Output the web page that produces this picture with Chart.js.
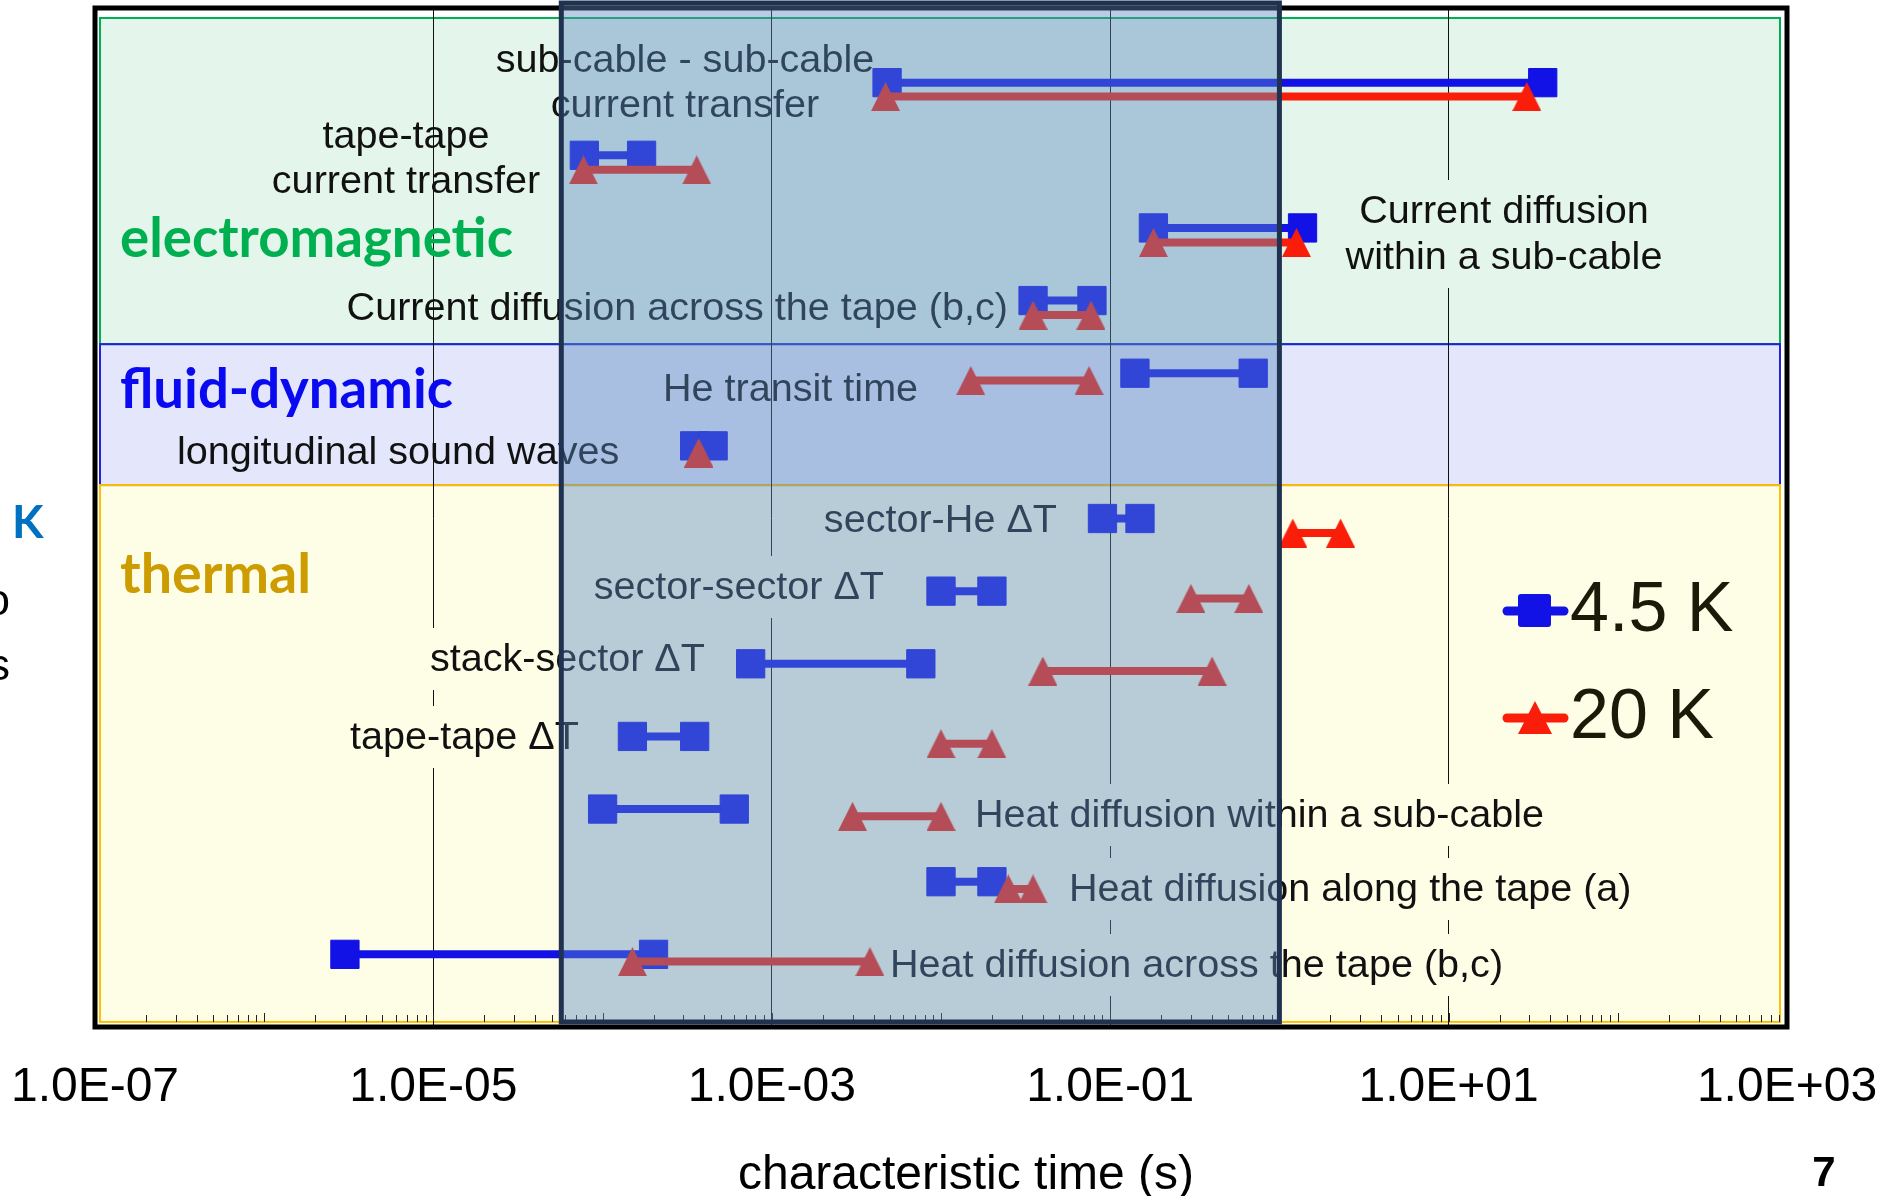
<!DOCTYPE html>
<html>
<head>
<meta charset="utf-8">
<script src="https://cdn.jsdelivr.net/npm/chart.js@4.4.1/dist/chart.umd.min.js"></script>
<style>
  html, body { margin: 0; padding: 0; background: #fff; }
  #wrap { width: 1879px; height: 1196px; }
</style>
</head>
<body>
<div id="wrap"><canvas id="myChart" width="1879" height="1196"></canvas></div>
<script>
// ---- data ----
const categories = [
  'sub-cable - sub-cable\ncurrent transfer',
  'tape-tape\ncurrent transfer',
  'Current diffusion\nwithin a sub-cable',
  'Current diffusion across the tape (b,c)',
  'He transit time',
  'longitudinal sound waves',
  'sector-He \u0394T',
  'sector-sector \u0394T',
  'stack-sector \u0394T',
  'tape-tape \u0394T',
  'Heat diffusion within a sub-cable',
  'Heat diffusion along the tape (a)',
  'Heat diffusion across the tape (b,c)'
];
const rowIndex = [1, 2, 3, 4, 5, 6, 7, 8, 9, 10, 11, 12, 13];
const blueStart = [4.8e-3, 7.8e-5, 0.18, 0.035, 0.14, 3.5e-4, 0.09, 0.010, 7.5e-4, 1.5e-4, 1.0e-4, 0.010, 3.0e-6];
const blueEnd   = [36, 1.7e-4, 1.37, 0.078, 0.70, 4.5e-4, 0.15, 0.020, 7.6e-3, 3.5e-4, 6.0e-4, 0.020, 2.0e-4];
const redStart  = [4.7e-3, 7.7e-5, 0.18, 0.035, 0.015, 3.7e-4, 1.2, 0.30, 0.040, 0.010, 3.0e-3, 0.025, 1.5e-4];
const redEnd    = [29, 3.6e-4, 1.26, 0.077, 0.075, 3.7e-4, 2.3, 0.66, 0.40, 0.020, 0.010, 0.035, 3.8e-3];
const redShift  = [0.19, 0.2, 0.2, 0.2, 0.1, 0.1, 0.2, 0.1, 0.1, 0.1, 0.1, 0.1, 0.1];
const seriesNames = ['4.5 K', '20 K'];
const groups = ['electromagnetic', 'fluid-dynamic', 'thermal'];
const tickValues = [1e-7, 1e-5, 1e-3, 1e-1, 1e1, 1e3];
const tickLabels = ['1.0E-07', '1.0E-05', '1.0E-03', '1.0E-01', '1.0E+01', '1.0E+03'];
const windowRange = [5.7e-5, 1.0];
const axisTitle = 'characteristic time (s)';

// ---- styles ----
const BLUE = '#1212e6';
const RED = '#fa1e0a';
const FONT = "'Liberation Sans', Arial, sans-serif";
const GREEN_BG = '#e4f5ec', LILAC_BG = '#e4e6fc', YELLOW_BG = '#fefee6';

function triangleImage(size, color) {
  const c = document.createElement('canvas');
  c.width = size; c.height = size;
  const g = c.getContext('2d');
  g.fillStyle = color;
  g.beginPath();
  g.moveTo(size / 2, 0); g.lineTo(size, size); g.lineTo(0, size);
  g.closePath(); g.fill();
  return c;
}

const bluePts = [], redPts = [];
rowIndex.forEach((r, i) => {
  bluePts.push({x: blueStart[i], y: r}, {x: blueEnd[i], y: r});
  redPts.push({x: redStart[i], y: r + redShift[i]}, {x: redEnd[i], y: r + redShift[i]});
});

function labelIndex(v) {
  return tickValues.findIndex(t => Math.abs(Math.log10(t) - Math.log10(v)) < 1e-6);
}

// label placement (pixels), one per category
const labelPos = [
  {x: 685, y: [61, 106], align: 'center'},
  {x: 406, y: [137, 182], align: 'center'},
  {x: 1504, y: [212, 258], align: 'center', bg: GREEN_BG},
  {x: 1008, y: [309], align: 'right'},
  {x: 663, y: [390], align: 'left'},
  {x: 177, y: [453], align: 'left'},
  {x: 1057, y: [521], align: 'right', bg: YELLOW_BG},
  {x: 884, y: [588], align: 'right', bg: YELLOW_BG},
  {x: 430, y: [660], align: 'left', bg: YELLOW_BG},
  {x: 350, y: [738], align: 'left', bg: YELLOW_BG},
  {x: 975, y: [816], align: 'left', bg: YELLOW_BG},
  {x: 1069, y: [890], align: 'left', bg: YELLOW_BG},
  {x: 890, y: [966], align: 'left', bg: YELLOW_BG}
];
const groupPos = [
  {x: 120, y: 239, w: 393, color: '#00b050'},
  {x: 120, y: 390, w: 333, color: '#0a0af0'},
  {x: 120, y: 575, w: 191, color: '#cc9c00'}
];
// band edges on the row axis
const bandEdges = [0.11, 4.6, 6.54, 13.93];
const bandStyle = [
  {fill: GREEN_BG, line: '#00b050'},
  {fill: LILAC_BG, line: '#2222dd'},
  {fill: YELLOW_BG, line: '#ffc000'}
];

function fitText(ctx, text, x, y, font, width, color) {
  ctx.save();
  ctx.font = font;
  ctx.fillStyle = color;
  ctx.textBaseline = 'middle';
  ctx.textAlign = 'left';
  const w = ctx.measureText(text).width;
  ctx.translate(x, y);
  ctx.scale(width / w, 1);
  ctx.fillText(text, 0, 0);
  ctx.restore();
}

const backdrop = {
  id: 'backdrop',
  beforeDraw(chart) {
    const {ctx, chartArea: a, scales: {y}} = chart;
    ctx.save();
    ctx.fillStyle = '#fff';
    ctx.fillRect(0, 0, chart.width, chart.height);
    const L = a.left + 5, R = a.right - 7;
    bandStyle.forEach((b, i) => {
      const t = y.getPixelForValue(bandEdges[i]);
      const bt = y.getPixelForValue(bandEdges[i + 1]);
      ctx.fillStyle = b.fill;
      ctx.fillRect(L, t, R - L, bt - t);
    });
    bandStyle.forEach((b, i) => {
      const t = y.getPixelForValue(bandEdges[i]);
      const bt = y.getPixelForValue(bandEdges[i + 1]);
      ctx.strokeStyle = b.line;
      ctx.lineWidth = 2;
      ctx.strokeRect(L, t, R - L, bt - t);
    });
    ctx.restore();
  }
};

const annotations = {
  id: 'annotations',
  beforeDatasetsDraw(chart) {
    const {ctx, chartArea: a, scales: {x}} = chart;
    ctx.save();
    // minor ticks along the bottom, inside the frame
    ctx.strokeStyle = '#222';
    ctx.lineWidth = 1;
    const base = a.bottom - 5;
    for (let e = -7; e < 3; e++) {
      for (let m = 2; m <= 10; m++) {
        const px = Math.round(x.getPixelForValue(m * Math.pow(10, e))) + 0.5;
        ctx.beginPath();
        ctx.moveTo(px, base);
        ctx.lineTo(px, base - (m === 10 ? 9 : 7));
        ctx.stroke();
      }
    }
    // group titles
    groups.forEach((g, i) => {
      const p = groupPos[i];
      fitText(ctx, g, p.x, p.y, "bold 56px Lato, 'Open Sans', sans-serif", p.w, p.color);
    });
    // category labels
    ctx.font = '39.6px ' + FONT;
    ctx.textBaseline = 'middle';
    categories.forEach((c, i) => {
      const p = labelPos[i];
      const lines = c.split('\n');
      ctx.textAlign = p.align;
      if (p.bg) {
        const w = Math.max(...lines.map(l => ctx.measureText(l).width));
        let left = p.align === 'left' ? p.x : p.align === 'right' ? p.x - w : p.x - w / 2;
        ctx.fillStyle = p.bg;
        ctx.fillRect(left - 6, p.y[0] - 32, w + 12, p.y[p.y.length - 1] - p.y[0] + 62);
      }
      ctx.fillStyle = '#111';
      lines.forEach((l, k) => ctx.fillText(l, p.x, p.y[k]));
    });
    ctx.restore();
  },
  afterDatasetsDraw(chart) {
    const {ctx, chartArea: a, scales: {x}} = chart;
    ctx.save();
    // black frame
    ctx.strokeStyle = '#000';
    ctx.lineWidth = 5;
    ctx.strokeRect(a.left, a.top - 2, a.right - a.left, a.bottom - a.top + 2);
    // highlighted time window
    const l = x.getPixelForValue(windowRange[0]);
    const r = x.getPixelForValue(windowRange[1]);
    ctx.fillStyle = 'rgba(91,138,193,0.43)';
    ctx.fillRect(l, 3, r - l, a.bottom - 5 - 3);
    ctx.strokeStyle = '#1f3350';
    ctx.lineWidth = 5;
    ctx.strokeRect(l, 3, r - l, a.bottom - 5 - 3);
    ctx.restore();
  },
  afterDraw(chart) {
    const {ctx} = chart;
    ctx.save();
    // axis title (sits a little right of centre in the original)
    ctx.fillStyle = '#000';
    ctx.font = '48px ' + FONT;
    ctx.textAlign = 'center';
    ctx.textBaseline = 'middle';
    ctx.fillText(axisTitle, 966, 1176);
    // legend
    const lx = 1503, lw = 65;
    ctx.lineCap = 'round';
    ctx.lineWidth = 9;
    ctx.strokeStyle = BLUE;
    ctx.beginPath(); ctx.moveTo(lx + 4, 611); ctx.lineTo(lx + lw - 4, 611); ctx.stroke();
    ctx.fillStyle = BLUE;
    ctx.beginPath(); ctx.roundRect(1518, 594, 33, 33, 3); ctx.fill();
    ctx.strokeStyle = RED;
    ctx.beginPath(); ctx.moveTo(lx + 4, 718); ctx.lineTo(lx + lw - 4, 718); ctx.stroke();
    ctx.fillStyle = RED;
    ctx.beginPath(); ctx.moveTo(1535, 701); ctx.lineTo(1552, 734); ctx.lineTo(1518, 734); ctx.closePath(); ctx.fill();
    ctx.fillStyle = '#1a1a08';
    ctx.font = '70px ' + FONT;
    ctx.textAlign = 'left';
    ctx.fillText(seriesNames[0], 1570, 612);
    ctx.fillText(seriesNames[1], 1570, 719);
    // slide leftovers at the edges
    ctx.fillStyle = '#0070c0';
    ctx.font = "bold 46px Lato, sans-serif";
    ctx.fillText('K', 12, 523);
    ctx.fillStyle = '#000';
    ctx.font = '44px ' + FONT;
    ctx.textAlign = 'right';
    ctx.fillText('o', 10, 603);
    ctx.fillText('s', 10, 668);
    ctx.font = 'bold 42px ' + FONT;
    ctx.textAlign = 'center';
    ctx.fillText('7', 1824, 1174);
    ctx.restore();
  }
};

new Chart(document.getElementById('myChart'), {
  type: 'scatter',
  data: {
    datasets: [
      {
        label: seriesNames[0],
        data: bluePts,
        showLine: true,
        borderColor: BLUE,
        borderWidth: 8,
        backgroundColor: BLUE,
        pointStyle: 'rect',
        pointRadius: 20,
        pointHoverRadius: 20,
        pointBorderWidth: 1,
        pointBorderColor: BLUE,
        pointBackgroundColor: BLUE,
        segment: { borderColor: c => (c.p0DataIndex % 2 ? 'rgba(0,0,0,0)' : BLUE) },
        order: 2
      },
      {
        label: seriesNames[1],
        data: redPts,
        showLine: true,
        borderColor: RED,
        borderWidth: 8,
        backgroundColor: RED,
        pointStyle: triangleImage(29, RED),
        pointRadius: 15,
        pointHoverRadius: 15,
        segment: { borderColor: c => (c.p0DataIndex % 2 ? 'rgba(0,0,0,0)' : RED) },
        order: 1
      }
    ]
  },
  options: {
    responsive: false,
    animation: false,
    events: [],
    layout: { autoPadding: false, padding: { left: 95, right: 92, top: 10, bottom: 0 } },
    plugins: {
      legend: { display: false },
      tooltip: { enabled: false }
    },
    scales: {
      x: {
        type: 'logarithmic',
        min: 1e-7,
        max: 1e3,
        afterBuildTicks: (scale) => {
          const t = [];
          for (let e = -7; e < 3; e++) {
            for (let m = 1; m < 10; m++) t.push({value: m * Math.pow(10, e)});
          }
          t.push({value: 1e3});
          scale.ticks = t;
        },
        afterFit: (scale) => {
          // labels may hang over the frame edges, like in the original
          scale.paddingLeft = 0;
          scale.paddingRight = 0;
          scale.height = 169;
        },
        grid: {
          drawTicks: false,
          lineWidth: 1,
          color: (c) => {
            const v = c.tick && c.tick.value;
            const i = v ? labelIndex(v) : -1;
            if (i <= 0 || i >= tickValues.length - 1) return 'rgba(0,0,0,0)';
            return '#111';
          }
        },
        border: { display: false },
        ticks: {
          autoSkip: false,
          maxRotation: 0,
          minRotation: 0,
          padding: 32,
          color: '#000',
          font: { family: FONT, size: 48 },
          callback: (v) => {
            const i = labelIndex(v);
            return i >= 0 ? tickLabels[i] : '';
          }
        },
        title: { display: false }
      },
      y: {
        type: 'linear',
        min: 0,
        max: 14,
        reverse: true,
        display: false
      }
    }
  },
  plugins: [backdrop, annotations]
});
</script>
</body>
</html>
